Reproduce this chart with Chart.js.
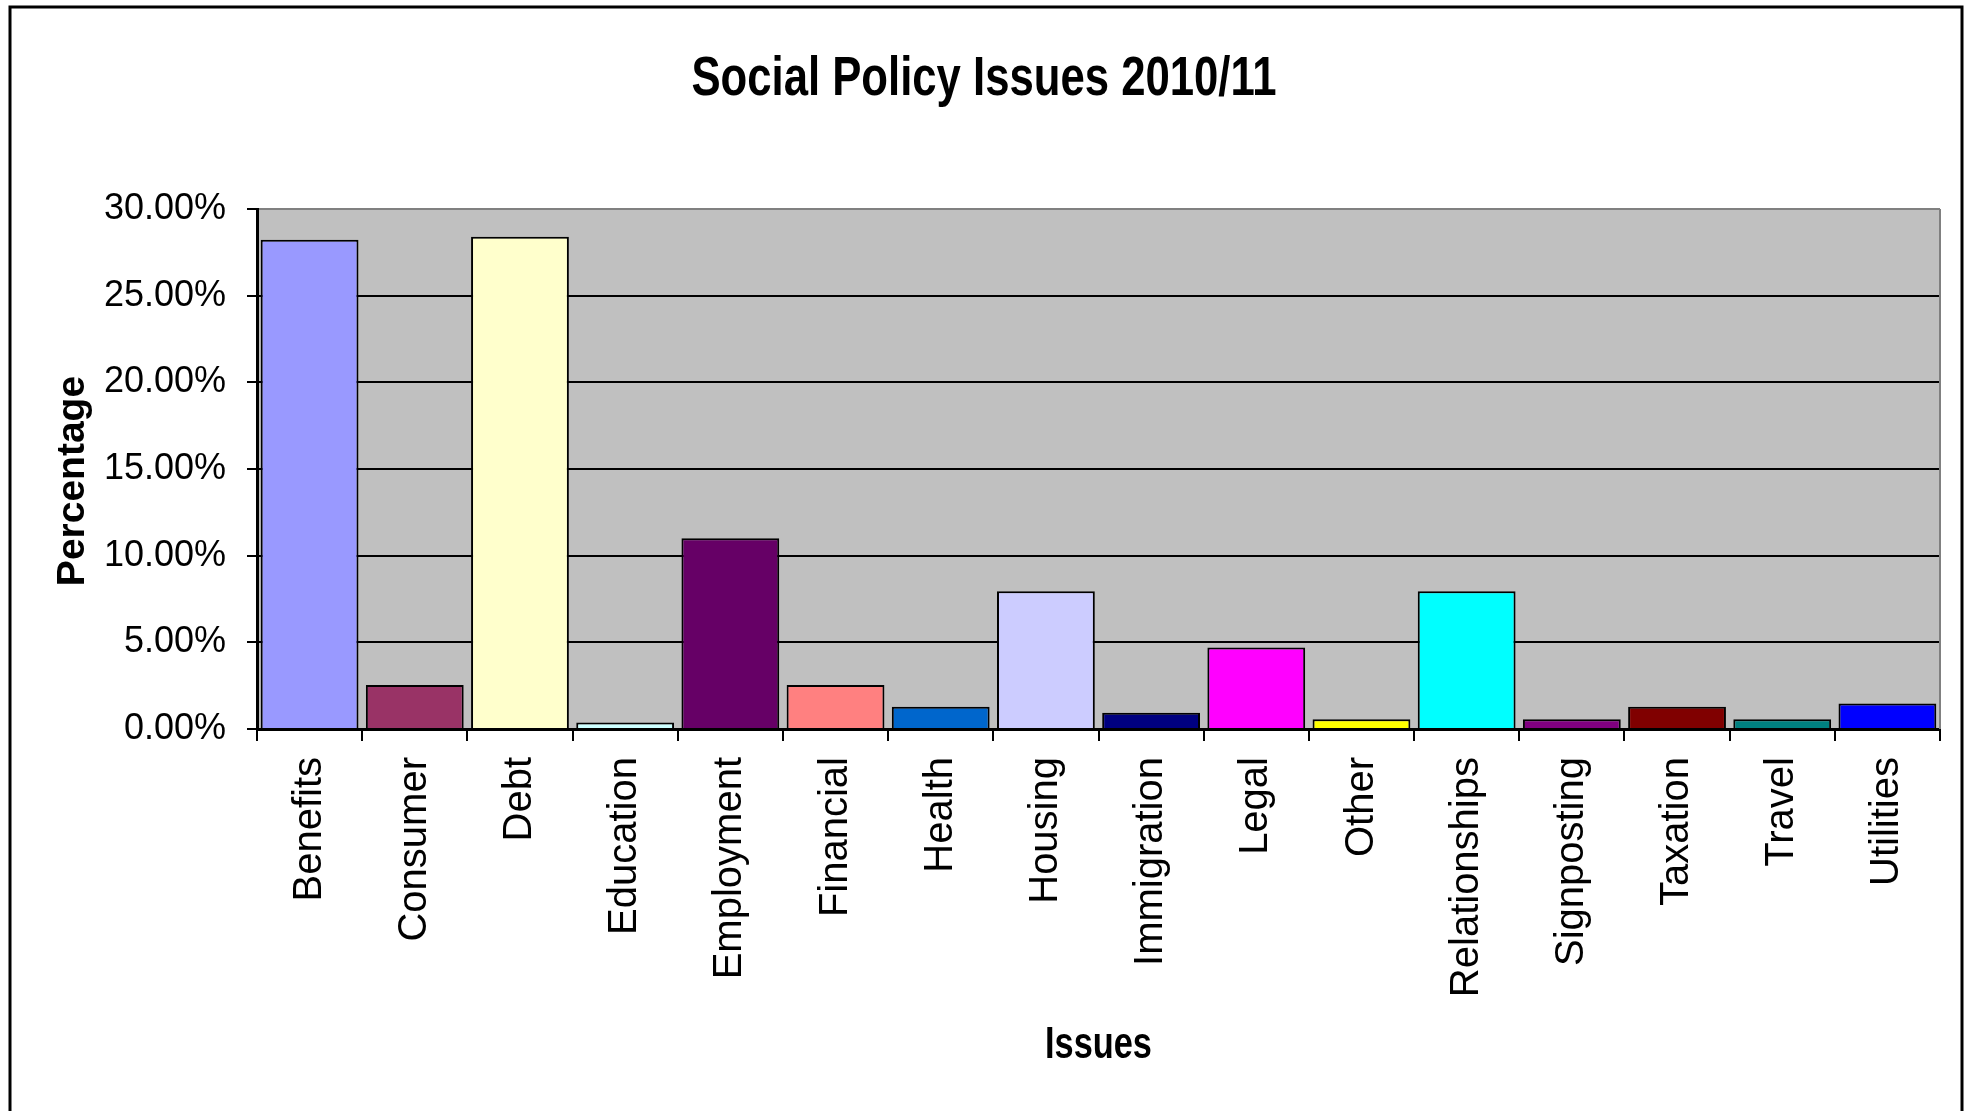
<!DOCTYPE html>
<html>
<head>
<meta charset="utf-8">
<script src="https://cdn.jsdelivr.net/npm/chart.js@4.4.1/dist/chart.umd.min.js"></script>
<style>
  html, body { margin: 0; background: #fff; }
  canvas { display: block; }
</style>
</head>
<body>
<canvas id="chart" width="1968" height="1111"></canvas>
<script>
// data (percent)
const titleText = 'Social Policy Issues 2010/11';
const xTitle = 'Issues';
const yTitle = 'Percentage';
const issues = ['Benefits', 'Consumer', 'Debt', 'Education', 'Employment', 'Financial', 'Health', 'Housing',
  'Immigration', 'Legal', 'Other', 'Relationships', 'Signposting', 'Taxation', 'Travel', 'Utilities'];
const percentages = [28.22, 2.54, 28.4, 0.38, 11.0, 2.54, 1.28, 7.95, 0.94, 4.70, 0.56, 7.95, 0.56, 1.28, 0.56, 1.47];
const barColors = ['#9999FF', '#993366', '#FFFFCC', '#CCFFFF', '#660066', '#FF8080', '#0066CC', '#CCCCFF',
  '#000080', '#FF00FF', '#FFFF00', '#00FFFF', '#800080', '#800000', '#008080', '#0000FF'];
const yMax = 30;
const yStep = 5;

const FONT = '"Liberation Sans", Arial, sans-serif';

// draws text squeezed horizontally, like the narrow bold in the original
function squeezed(ctx, text, x, y, font, sx) {
  ctx.save();
  ctx.translate(x, y);
  ctx.scale(sx, 1);
  ctx.font = font;
  ctx.fillStyle = '#000';
  ctx.textAlign = 'center';
  ctx.textBaseline = 'alphabetic';
  ctx.fillText(text, 0, 0);
  ctx.restore();
}

const frame = {
  id: 'frame',
  beforeDraw(chart) {
    const { ctx, chartArea: a } = chart;
    ctx.save();
    ctx.fillStyle = '#fff';
    ctx.fillRect(0, 0, chart.width, chart.height);
    ctx.fillStyle = '#c0c0c0';
    ctx.fillRect(a.left, a.top, a.right - a.left, a.bottom - a.top);
    ctx.restore();
  },
  afterDraw(chart) {
    const { ctx, chartArea: a } = chart;
    ctx.save();
    ctx.strokeStyle = '#808080';
    ctx.lineWidth = 2;
    ctx.beginPath();
    ctx.moveTo(a.right, a.top);
    ctx.lineTo(a.right, a.bottom);
    ctx.stroke();

    ctx.strokeStyle = '#000';
    ctx.lineWidth = 3;
    ctx.strokeRect(10, 7, 1952, 1200);

    squeezed(ctx, titleText, 984, 95, 'bold 56px ' + FONT, 0.78);
    squeezed(ctx, xTitle, (a.left + a.right) / 2, 1058, 'bold 44px ' + FONT, 0.78);

    ctx.translate(73, 481);
    ctx.rotate(-Math.PI / 2);
    ctx.font = 'bold 39px ' + FONT;
    ctx.fillStyle = '#000';
    ctx.textAlign = 'center';
    ctx.textBaseline = 'middle';
    ctx.fillText(yTitle, 0, 0);
    ctx.restore();
  }
};

new Chart(document.getElementById('chart').getContext('2d'), {
  type: 'bar',
  data: {
    labels: issues,
    datasets: [{
      label: yTitle,
      data: percentages,
      backgroundColor: barColors,
      borderColor: '#000',
      borderWidth: 2,
      barPercentage: 0.93,
      categoryPercentage: 1
    }]
  },
  options: {
    responsive: false,
    animation: false,
    devicePixelRatio: 1,
    layout: { padding: { top: 209, right: 28, bottom: 0, left: 0 } },
    plugins: { legend: { display: false }, tooltip: { enabled: false } },
    scales: {
      x: {
        afterFit: s => { s.height = 382; },
        grid: { drawOnChartArea: false, drawTicks: true, tickLength: 12, color: '#000', lineWidth: 2 },
        border: { display: true, color: '#000', width: 3 },
        ticks: {
          autoSkip: false, minRotation: 90, maxRotation: 90, padding: 16,
          color: '#000', font: { family: FONT, size: 40 }
        }
      },
      y: {
        min: 0, max: yMax,
        afterFit: s => { s.width = 257; },
        grid: {
          color: c => (c.tick && c.tick.value === yMax ? '#808080' : '#000'),
          lineWidth: 2, tickLength: 10, tickColor: '#000', tickWidth: 2
        },
        border: { display: true, color: '#000', width: 3 },
        ticks: {
          stepSize: yStep, padding: 21, color: '#000',
          font: { family: FONT, size: 36 },
          callback: v => v.toFixed(2) + '%'
        }
      }
    }
  },
  plugins: [frame]
});
</script>
</body>
</html>
